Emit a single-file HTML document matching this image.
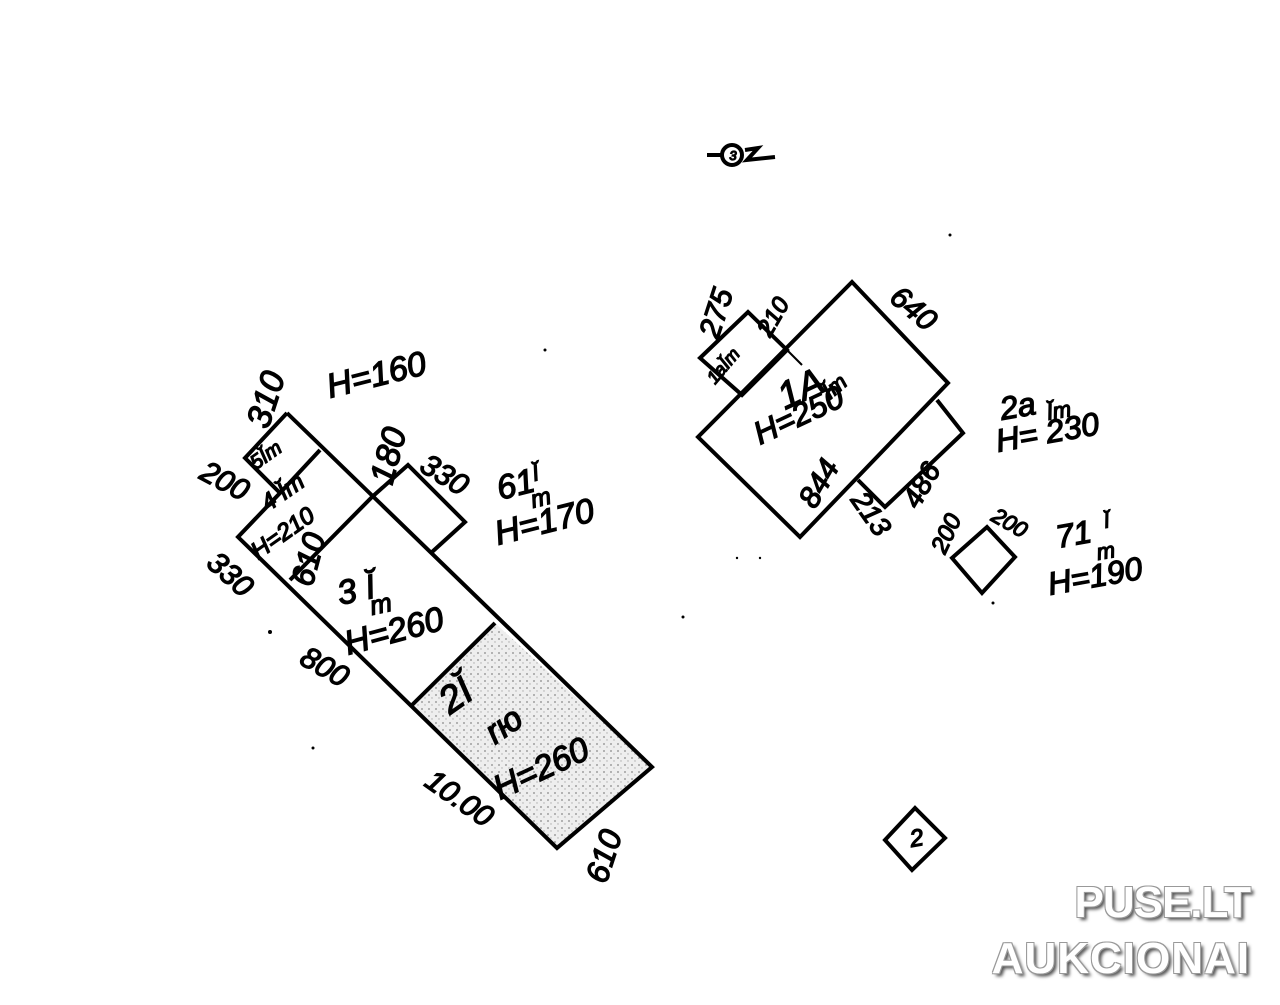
<!DOCTYPE html>
<html><head><meta charset="utf-8"><style>
html,body{margin:0;padding:0;background:#fff;}
.wrap{position:relative;width:1280px;height:1005px;overflow:hidden;background:#fff;}
svg text{font-family:"Liberation Sans",sans-serif;font-style:italic;fill:#000;stroke:#000;stroke-width:1.3;}
.wm{position:absolute;right:30px;font-family:"Liberation Sans",sans-serif;font-weight:bold;color:#fff;
text-shadow:-1px -1px 0 #999,1px -1px 0 #999,-1px 1px 0 #999,1px 1px 0 #999,3px 3px 3px #555;}
</style></head><body><div class="wrap">
<svg width="1280" height="1005" viewBox="0 0 1280 1005" xmlns="http://www.w3.org/2000/svg">
<defs>
<pattern id="dots" width="7" height="7" patternUnits="userSpaceOnUse">
<rect width="7" height="7" fill="#eeeeee"/><circle cx="2" cy="2" r="0.9" fill="#888"/><circle cx="5" cy="5" r="0.7" fill="#aaa"/>
</pattern>
</defs>
<g fill="none" stroke="#000" stroke-width="4" stroke-linejoin="miter">
<polygon points="495,623 652,767 557,848 410,707" fill="url(#dots)" stroke="none"/>
<polyline points="287,413 652,767 557,848 238,537 280,493 245,458 287,413"/>
<line x1="320" y1="450" x2="280" y2="493"/>
<line x1="372" y1="497" x2="290" y2="580"/>
<line x1="495" y1="623" x2="410" y2="707"/>
<polyline points="372,497 408,465 465,522 432,552"/>
<polygon points="852,282 948,383 800,537 698,437"/>
<polygon points="700,358 748,312 787,350 742,395"/>
<line x1="787" y1="350" x2="802" y2="365" stroke-width="2"/>
<polyline points="937,400 963,433 885,507 858,480"/>
<polygon points="952,558 987,527 1015,557 982,593"/>
<circle cx="732" cy="155" r="10"/>
<line x1="707" y1="155" x2="722" y2="155"/>
<path d="M745,150 L758,148 L747,160 L775,157"/>
<polygon points="885,840 915,808 945,838 912,870"/>
</g>
<g fill="#000">
<circle cx="545" cy="350" r="1.5"/><circle cx="270" cy="632" r="2"/><circle cx="313" cy="748" r="1.5"/>
<circle cx="683" cy="617" r="1.5"/><circle cx="950" cy="235" r="1.5"/><circle cx="993" cy="603" r="1.5"/>
<circle cx="737" cy="558" r="1.2"/><circle cx="760" cy="558" r="1.2"/>
</g>
<text x="918" y="846" font-size="24" transform="rotate(-10 918 846)" text-anchor="middle">2</text>
<text x="733" y="160" font-size="13" text-anchor="middle">3</text>
<g font-size="34">
<text transform="translate(268,430) rotate(-72)">310</text>
<text transform="translate(330,398) rotate(-14)">H=160</text>
<text transform="translate(198,478) rotate(28)" font-size="30">200</text>
<text transform="translate(392,486) rotate(-75)">180</text>
<text transform="translate(418,470) rotate(32)" font-size="30">330</text>
<text transform="translate(500,500) rotate(-14)">61<tspan font-size="22" dy="-10">Ĭ</tspan></text>
<text transform="translate(533,508) rotate(-14)" font-size="24">m</text>
<text transform="translate(498,545) rotate(-14)">H=170</text>
<text transform="translate(205,565) rotate(42)" font-size="30">330</text>
<text transform="translate(312,588) rotate(-75)" font-size="32">610</text>
<text transform="translate(298,663) rotate(30)" font-size="30">800</text>
<text transform="translate(423,785) rotate(35)" font-size="30">10.00</text>
<text transform="translate(606,885) rotate(-72)" font-size="32">610</text>
<text transform="translate(256,470) rotate(-35)" font-size="20">5Ĭm</text>
<text transform="translate(268,512) rotate(-35)" font-size="24">4 Ĭm</text>
<text transform="translate(258,560) rotate(-35)" font-size="24">H=210</text>
<text transform="translate(340,605) rotate(-12)">3 Ĭ</text>
<text transform="translate(372,615) rotate(-12)" font-size="26">m</text>
<text transform="translate(348,655) rotate(-15)">H=260</text>
<text transform="translate(450,715) rotate(-35)" font-size="38">2Ĭ</text>
<text transform="translate(495,745) rotate(-35)">rю</text>
<text transform="translate(500,800) rotate(-25)">H=260</text>
</g>
<g font-size="32">
<text transform="translate(718,340) rotate(-72)" font-size="30">275</text>
<text transform="translate(770,338) rotate(-60)" font-size="24">210</text>
<text transform="translate(888,300) rotate(40)" font-size="30">640</text>
<text transform="translate(715,385) rotate(-50)" font-size="18">1aĬm</text>
<text transform="translate(785,410) rotate(-25)" font-size="38">1A</text>
<text transform="translate(830,400) rotate(-40)" font-size="22">Ĭm</text>
<text transform="translate(760,445) rotate(-25)">H=250</text>
<text transform="translate(815,510) rotate(-60)" font-size="30">844</text>
<text transform="translate(1002,420) rotate(-10)">2a</text>
<text transform="translate(1048,420) rotate(-10)" font-size="22">Ĭm</text>
<text transform="translate(998,452) rotate(-10)">H= 230</text>
<text transform="translate(918,510) rotate(-60)" font-size="28">486</text>
<text transform="translate(850,500) rotate(55)" font-size="28">213</text>
<text transform="translate(945,555) rotate(-65)" font-size="24">200</text>
<text transform="translate(990,520) rotate(30)" font-size="22">200</text>
<text transform="translate(1058,548) rotate(-10)">71</text>
<text transform="translate(1105,528) rotate(-10)" font-size="20">Ĭ</text>
<text transform="translate(1098,560) rotate(-10)" font-size="22">m</text>
<text transform="translate(1050,595) rotate(-10)">H=190</text>
</g>
</svg>
<div class="wm" style="top:878px;font-size:44px;letter-spacing:-1px;">PUSE.LT</div>
<div class="wm" style="top:934px;font-size:44px;letter-spacing:1px;">AUKCIONAI</div>
</div></body></html>
